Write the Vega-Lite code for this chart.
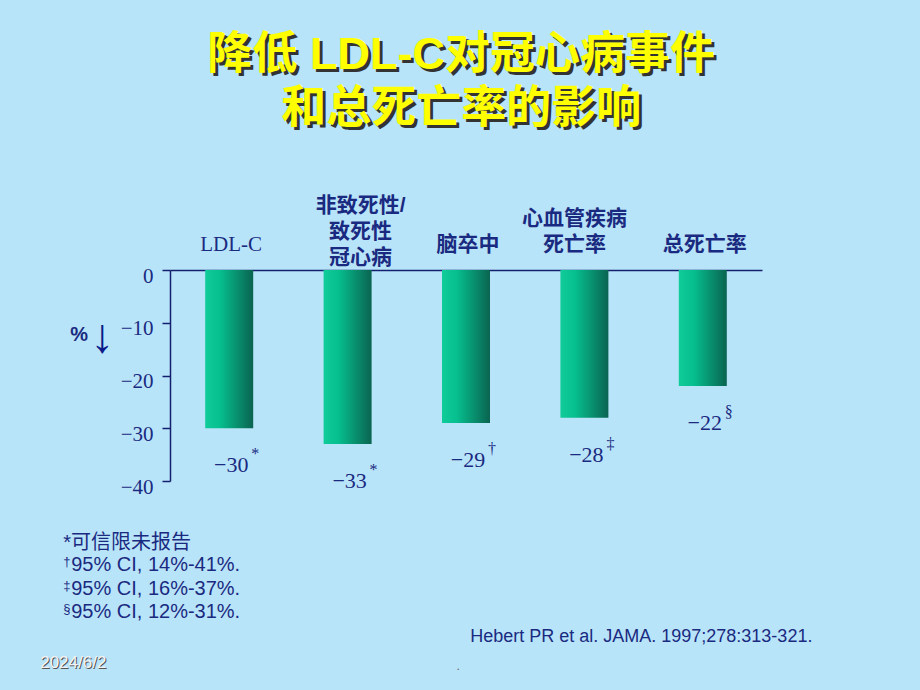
{
  "$schema": "https://vega.github.io/schema/vega-lite/v6.json",
  "width": 592,
  "height": 211,
  "autosize": {"type": "none"},
  "padding": {"left": 170, "top": 270, "right": 158, "bottom": 209},
  "background": "#b8e4fa",
  "config": {"view": {"stroke": null}, "font": "Liberation Sans"},
  "datasets": {
    "bars": [
      {"cat": "LDL-C", "value": -30, "note": "*"},
      {"cat": "非致死性/致死性冠心病", "value": -33, "note": "*"},
      {"cat": "脑卒中", "value": -29, "note": "†"},
      {"cat": "心血管疾病死亡率", "value": -28, "note": "‡"},
      {"cat": "总死亡率", "value": -22, "note": "§"}
    ]
  },
  "layer": [
    {
      "data": {"name": "bars"},
      "mark": {
        "type": "bar",
        "width": 48,
        "color": {
          "gradient": "linear",
          "x1": 0, "x2": 1, "y1": 0, "y2": 0,
          "stops": [
            {"offset": 0, "color": "#10cc99"},
            {"offset": 0.3, "color": "#06c08f"},
            {"offset": 1, "color": "#0a6450"}
          ]
        }
      },
      "encoding": {
        "x": {
          "field": "cat",
          "type": "nominal",
          "scale": {
            "domain": ["LDL-C", "非致死性/致死性冠心病", "脑卒中", "心血管疾病死亡率", "总死亡率"],
            "paddingInner": 0,
            "paddingOuter": 0
          },
          "axis": {
            "orient": "top",
            "title": null,
            "ticks": false,
            "tickSize": 0,
            "domainColor": "#14206e",
            "domainWidth": 1.5,
            "labelAngle": 0,
            "labelFontSize": 21,
            "labelColor": "#1a2a80",
            "labelLineHeight": 26,
            "labelFont": {"condition": {"test": "datum.value == 'LDL-C'", "value": "Liberation Serif"}, "value": "Liberation Sans, Noto Sans CJK SC"},
            "labelFontWeight": {"condition": {"test": "datum.value == 'LDL-C'", "value": "normal"}, "value": "bold"},
            "labelPadding": {"condition": [
              {"test": "datum.value == '非致死性/致死性冠心病'", "value": 55},
              {"test": "datum.value == '心血管疾病死亡率'", "value": 42}
            ], "value": 16},
            "labelOffset": {"condition": [
              {"test": "datum.value == '非致死性/致死性冠心病'", "value": 13},
              {"test": "datum.value == '心血管疾病死亡率'", "value": -10}
            ], "value": 2},
            "labelExpr": "datum.value == '非致死性/致死性冠心病' ? ['非致死性/', '致死性', '冠心病'] : datum.value == '心血管疾病死亡率' ? ['心血管疾病', '死亡率'] : datum.value"
          }
        },
        "y": {
          "field": "value",
          "type": "quantitative",
          "scale": {"domain": [-40, 0], "nice": false},
          "axis": {
            "values": [0, -10, -20, -30, -40],
            "title": null,
            "grid": false,
            "format": "d",
            "domainColor": "#14206e",
            "domainWidth": 1.5,
            "tickColor": "#14206e",
            "tickWidth": 1.5,
            "tickSize": 8,
            "labelFont": "Liberation Serif",
            "labelFontSize": 21,
            "labelColor": "#1a2a80",
            "labelPadding": 9,
            "labelOffset": 6
          }
        }
      }
    },
    {
      "data": {"name": "bars"},
      "mark": {"type": "text", "font": "Liberation Serif", "fontSize": 22, "color": "#1a2a80", "baseline": "middle", "dx": 2, "dy": 37},
      "encoding": {
        "x": {"field": "cat", "type": "nominal"},
        "y": {"field": "value", "type": "quantitative"},
        "text": {"field": "value", "type": "quantitative", "format": "d"}
      }
    },
    {
      "data": {"name": "bars"},
      "mark": {"type": "text", "font": "Liberation Serif", "fontSize": 16, "color": "#1a2a80", "baseline": "middle", "dx": 26, "dy": 26},
      "encoding": {
        "x": {"field": "cat", "type": "nominal"},
        "y": {"field": "value", "type": "quantitative"},
        "text": {"field": "note"}
      }
    },
    {
      "data": {"values": [{"t": "降低 LDL-C对冠心病事件\n和总死亡率的影响"}]},
      "mark": {"type": "text", "lineBreak": "\n", "lineHeight": 54, "font": "Liberation Sans, Noto Sans CJK SC", "fontSize": 45, "fontWeight": "bold", "color": "#333333", "align": "center", "baseline": "top", "dx": 235, "dy": -234},
      "encoding": {"x": {"datum": "LDL-C", "type": "nominal"}, "y": {"datum": 0, "type": "quantitative"}, "text": {"field": "t"}}
    },
    {
      "data": {"values": [{"t": "降低 LDL-C对冠心病事件\n和总死亡率的影响"}]},
      "mark": {"type": "text", "lineBreak": "\n", "lineHeight": 54, "font": "Liberation Sans, Noto Sans CJK SC", "fontSize": 45, "fontWeight": "bold", "color": "#ffff00", "align": "center", "baseline": "top", "dx": 232, "dy": -237},
      "encoding": {"x": {"datum": "LDL-C", "type": "nominal"}, "y": {"datum": 0, "type": "quantitative"}, "text": {"field": "t"}}
    },
    {
      "data": {"values": [{"t": "%"}]},
      "mark": {"type": "text", "font": "Liberation Sans", "fontSize": 20, "fontWeight": "bold", "color": "#1a2a80", "align": "center", "baseline": "middle", "dx": -150, "dy": 65},
      "encoding": {"x": {"datum": "LDL-C", "type": "nominal"}, "y": {"datum": 0, "type": "quantitative"}, "text": {"field": "t"}}
    },
    {
      "data": {"values": [{"t": "↓"}]},
      "mark": {"type": "text", "font": "Liberation Sans", "fontSize": 48, "fontWeight": "bold", "color": "#0a1a8a", "align": "center", "baseline": "middle", "dx": -127, "dy": 68},
      "encoding": {"x": {"datum": "LDL-C", "type": "nominal"}, "y": {"datum": 0, "type": "quantitative"}, "text": {"field": "t"}}
    },
    {
      "data": {"values": [{"t": "*可信限未报告"}]},
      "mark": {"type": "text", "font": "Liberation Sans, Noto Sans CJK SC", "fontSize": 20, "color": "#1a2a80", "align": "left", "baseline": "top", "dx": -166, "dy": 52},
      "encoding": {"x": {"datum": "LDL-C", "type": "nominal"}, "y": {"datum": -40, "type": "quantitative"}, "text": {"field": "t"}}
    },
    {
      "data": {"values": [{"t": "95% CI, 14%-41%.\n95% CI, 16%-37%.\n95% CI, 12%-31%."}]},
      "mark": {"type": "text", "lineBreak": "\n", "lineHeight": 23.7, "font": "Liberation Sans", "fontSize": 20, "color": "#1a2a80", "align": "left", "baseline": "top", "dx": -158, "dy": 74},
      "encoding": {"x": {"datum": "LDL-C", "type": "nominal"}, "y": {"datum": -40, "type": "quantitative"}, "text": {"field": "t"}}
    },
    {
      "data": {"values": [{"t": "†\n‡\n§"}]},
      "mark": {"type": "text", "lineBreak": "\n", "lineHeight": 23.7, "font": "Liberation Sans", "fontSize": 13, "color": "#1a2a80", "align": "left", "baseline": "top", "dx": -166, "dy": 75},
      "encoding": {"x": {"datum": "LDL-C", "type": "nominal"}, "y": {"datum": -40, "type": "quantitative"}, "text": {"field": "t"}}
    },
    {
      "data": {"values": [{"t": "Hebert PR et al. JAMA. 1997;278:313-321."}]},
      "mark": {"type": "text", "font": "Liberation Sans", "fontSize": 18, "color": "#1a2a80", "align": "left", "baseline": "middle", "dx": 241, "dy": 156},
      "encoding": {"x": {"datum": "LDL-C", "type": "nominal"}, "y": {"datum": -40, "type": "quantitative"}, "text": {"field": "t"}}
    },
    {
      "data": {"values": [{"t": "2024/6/2"}]},
      "mark": {"type": "text", "font": "Liberation Sans", "fontSize": 17, "color": "#555555", "align": "left", "baseline": "middle", "dx": -188, "dy": 183},
      "encoding": {"x": {"datum": "LDL-C", "type": "nominal"}, "y": {"datum": -40, "type": "quantitative"}, "text": {"field": "t"}}
    },
    {
      "data": {"values": [{"t": "2024/6/2"}]},
      "mark": {"type": "text", "font": "Liberation Sans", "fontSize": 17, "color": "#f2f2f2", "align": "left", "baseline": "middle", "dx": -189, "dy": 182},
      "encoding": {"x": {"datum": "LDL-C", "type": "nominal"}, "y": {"datum": -40, "type": "quantitative"}, "text": {"field": "t"}}
    },
    {
      "data": {"values": [{"t": "."}]},
      "mark": {"type": "text", "font": "Liberation Sans", "fontSize": 12, "color": "#666666", "align": "center", "baseline": "middle", "dx": 229, "dy": 185},
      "encoding": {"x": {"datum": "LDL-C", "type": "nominal"}, "y": {"datum": -40, "type": "quantitative"}, "text": {"field": "t"}}
    }
  ]
}
